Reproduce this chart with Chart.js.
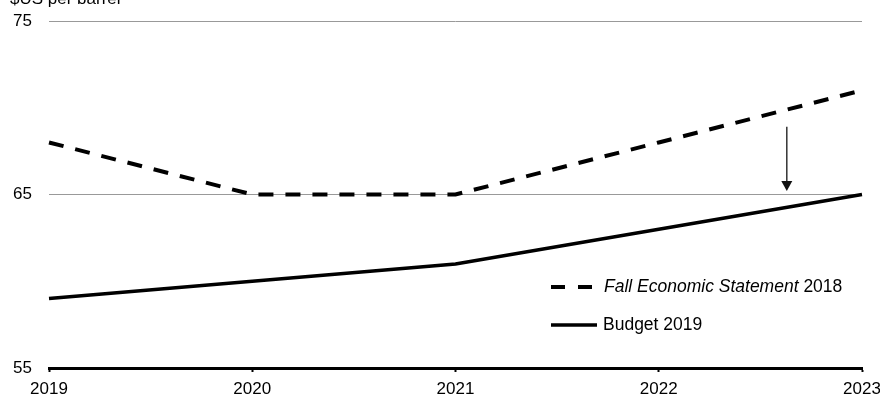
<!DOCTYPE html>
<html>
<head>
<meta charset="utf-8">
<script src="https://cdn.jsdelivr.net/npm/chart.js@4"></script>
<style>
html,body{margin:0;padding:0;background:#fff;}
#wrap{width:880px;height:398px;position:relative;}
</style>
</head>
<body>
<div id="wrap"><canvas id="c" width="880" height="398"></canvas></div>
<script>
const categories = ['2019', '2020', '2021', '2022', '2023'];
const fesValues = [68, 65, 65, 68, 71];
const budgetValues = [59, 60, 61, 63, 65];
const yTicks = [55, 65, 75];
const axisTitle = '$US per barrel';
const fesLabelItalic = 'Fall Economic Statement';
const fesLabelRest = ' 2018';
const budgetLabel = 'Budget 2019';
const arrowIndex = 3.63, arrowFrom = 68.9, arrowTo = 65.2;

const FONT = '"Liberation Sans", Arial, sans-serif';

const overlay = {
  id: 'overlay',
  afterDraw(chart) {
    const ctx = chart.ctx;
    const xs = chart.scales.x, ys = chart.scales.y;
    ctx.save();
    // axis title
    ctx.fillStyle = '#000';
    ctx.font = '17px ' + FONT;
    ctx.textBaseline = 'alphabetic';
    ctx.textAlign = 'left';
    ctx.fillText(axisTitle, 10, 4);

    // arrow
    const ax = xs.getPixelForValue(arrowIndex);
    const ay1 = ys.getPixelForValue(arrowFrom);
    const ay2 = ys.getPixelForValue(arrowTo);
    ctx.strokeStyle = '#333';
    ctx.fillStyle = '#111';
    ctx.lineWidth = 1.5;
    ctx.beginPath();
    ctx.moveTo(ax, ay1);
    ctx.lineTo(ax, ay2 - 9);
    ctx.stroke();
    ctx.beginPath();
    ctx.moveTo(ax - 5.5, ay2 - 10);
    ctx.lineTo(ax + 5.5, ay2 - 10);
    ctx.lineTo(ax, ay2);
    ctx.closePath();
    ctx.fill();

    // legend
    const ds = chart.data.datasets;
    const lx = 551;
    const y1 = 287, y2 = 325;
    ctx.strokeStyle = ds[0].borderColor;
    ctx.lineWidth = ds[0].borderWidth;
    ctx.setLineDash([14, 13]);
    ctx.beginPath();
    ctx.moveTo(lx, y1); ctx.lineTo(lx + 43, y1);
    ctx.stroke();
    ctx.setLineDash([]);
    ctx.lineWidth = ds[1].borderWidth;
    ctx.beginPath();
    ctx.moveTo(lx, y2); ctx.lineTo(lx + 46, y2);
    ctx.stroke();

    ctx.fillStyle = '#000';
    ctx.textBaseline = 'middle';
    ctx.font = 'italic 17.5px ' + FONT;
    ctx.fillText(fesLabelItalic, 604, y1);
    const w = ctx.measureText(fesLabelItalic).width;
    ctx.font = '17.5px ' + FONT;
    ctx.fillText(fesLabelRest, 604 + w, y1);
    ctx.fillText(budgetLabel, 603, y2);
    ctx.restore();
  }
};

new Chart(document.getElementById('c'), {
  type: 'line',
  data: {
    labels: categories,
    datasets: [
      {
        label: fesLabelItalic + fesLabelRest,
        data: fesValues,
        borderColor: '#000',
        borderWidth: 4,
        borderDash: [15, 12],
        pointRadius: 0,
        tension: 0,
        fill: false
      },
      {
        label: budgetLabel,
        data: budgetValues,
        borderColor: '#000',
        borderWidth: 3.5,
        pointRadius: 0,
        tension: 0,
        fill: false
      }
    ]
  },
  options: {
    responsive: false,
    animation: false,
    devicePixelRatio: 1,
    layout: { padding: { left: 0, right: 18, top: 21, bottom: 0 } },
    plugins: { legend: { display: false }, tooltip: { enabled: false } },
    scales: {
      x: {
        offset: false,
        border: { display: true, color: '#000', width: 3 },
        grid: { drawOnChartArea: false, drawTicks: true, tickLength: 4, tickColor: '#000', tickWidth: 2 },
        ticks: { color: '#000', font: { family: FONT, size: 17 }, padding: 7, maxRotation: 0, autoSkip: false },
        afterFit(s) { s.height = 30; s.paddingLeft = 0; s.paddingRight = 0; }
      },
      y: {
        min: 55, max: 75,
        afterBuildTicks(s) { s.ticks = yTicks.map(v => ({ value: v })); },
        border: { display: false },
        grid: {
          drawTicks: false,
          color: c => (c.tick && c.tick.value === 55) ? 'rgba(0,0,0,0)' : '#999999',
          lineWidth: 1
        },
        ticks: { color: '#000', font: { family: FONT, size: 17 }, padding: 17 },
        afterFit(s) { s.width = 49; s.paddingTop = 0; s.paddingBottom = 0; }
      }
    }
  },
  plugins: [overlay]
});
</script>
</body>
</html>
